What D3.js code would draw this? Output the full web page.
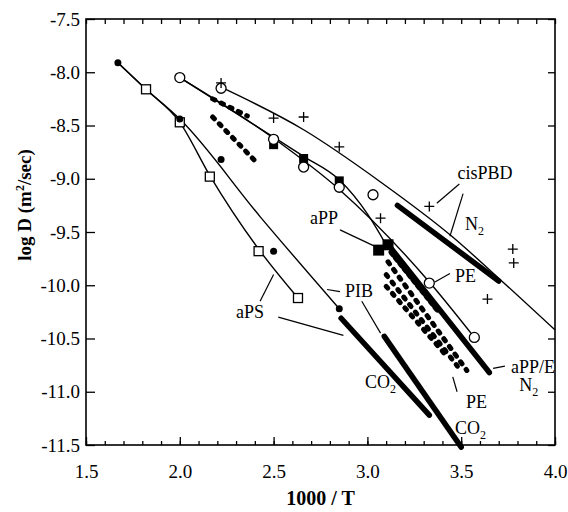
<!DOCTYPE html>
<html>
<head>
<meta charset="utf-8">
<script src="https://cdn.jsdelivr.net/npm/d3@7"></script>
<style>
  body { margin: 0; background: #fff; }
  text { font-family: "Liberation Serif", "Times New Roman", serif; fill: #000; }
</style>
</head>
<body>
<svg id="chart" width="568" height="512"></svg>
<script>
// tick values
const xMajor = [1.5, 2.0, 2.5, 3.0, 3.5, 4.0];
const xMinor = d3.range(15, 41).map(d => d / 10);
const yMajor = [-7.5, -8.0, -8.5, -9.0, -9.5, -10.0, -10.5, -11.0, -11.5];

// measured points  [1000/T, log D]
const apsSquares = [[1.82, -8.16], [2.0, -8.47], [2.16, -8.98], [2.42, -9.68], [2.63, -10.12]];
const pibDots = [[1.67, -7.91], [2.0, -8.44], [2.22, -8.82], [2.5, -9.68], [2.85, -10.22]];
const peCircles = [[2.0, -8.05], [2.22, -8.15], [2.5, -8.63], [2.66, -8.89], [2.85, -9.08], [3.03, -9.15], [3.33, -9.98], [3.57, -10.49]];
const appSquares = [[2.5, -8.68], [2.66, -8.81], [2.85, -9.02]];
const appBigSquares = [[3.06, -9.67], [3.11, -9.62]];
const pbdPlus = [[2.22, -8.10], [2.5, -8.43], [2.66, -8.42], [2.85, -8.70], [3.07, -9.37], [3.33, -9.26], [3.775, -9.66], [3.78, -9.79], [3.64, -10.13]];

// fitted curves
const apsFit = [[1.67, -7.91], [1.82, -8.16], [2.0, -8.47], [2.16, -8.97], [2.42, -9.66], [2.63, -10.12]];
const pibFit = [[1.67, -7.91], [1.82, -8.16], [2.0, -8.44], [2.43, -9.36], [2.85, -10.22]];
const peFit = [[2.0, -8.05], [2.5, -8.62], [2.85, -9.10], [3.33, -9.97], [3.57, -10.49]];
const appFit = [[2.0, -8.05], [2.5, -8.61], [2.66, -8.79], [2.85, -9.01], [3.0, -9.33], [3.10, -9.62]];
const pbdFit = [[2.22, -8.14], [2.66, -8.54], [3.07, -9.03], [3.45, -9.54], [3.71, -9.95], [4.0, -10.42]];

// thick gas ranges
const thickLines = [
  [[3.16, -9.25], [3.70, -9.96]],   // cisPBD N2
  [[2.86, -10.31], [3.33, -11.22]], // aPS CO2
  [[3.09, -10.48], [3.50, -11.52]], // PIB CO2
  [[3.12, -9.64], [3.65, -10.82]]   // aPP/E N2
];

// dotted ranges
const dotRows = [
  [[2.175, -8.25], [2.36, -8.41]],
  [[2.175, -8.42], [2.40, -8.83]],
  [[3.11, -9.78], [3.53, -10.80]],
  [[3.10, -9.90], [3.48, -10.76]],
  [[3.10, -10.01], [3.42, -10.66]]
];
const denseRow = [[3.13, -9.69], [3.38, -10.24]];

// labels: [text, subscript, x, y]
const labels = [
  ['cisPBD', '', 3.48, -9.0],
  ['N', '2', 3.52, -9.48],
  ['aPP', '', 2.694, -9.425],
  ['PE', '', 3.467, -9.97],
  ['PIB', '', 2.88, -10.11],
  ['aPS', '', 2.30, -10.31],
  ['CO', '2', 2.987, -10.965],
  ['CO', '2', 3.467, -11.40],
  ['aPP/E', '', 3.765, -10.82],
  ['N', '2', 3.81, -10.99],
  ['PE', '', 3.526, -11.15]
];
const pointers = [
  [[3.49, -9.05], [3.37, -9.23]],
  [[3.51, -9.14], [3.44, -9.54]],
  [[2.854, -9.48], [3.046, -9.64]],
  [[3.36, -9.97], [3.44, -9.89]],
  [[2.785, -10.04], [2.854, -10.06]],
  [[2.97, -10.15], [3.07, -10.45]],
  [[2.428, -10.15], [2.50, -9.90]],
  [[2.525, -10.30], [2.872, -10.47]],
  [[3.67, -10.78], [3.733, -10.76]],
  [[3.455, -10.86], [3.478, -11.0]]
];

const svg = d3.select('#chart');
const x = d3.scaleLinear().domain([1.5, 4.0]).range([86, 555]);
const y = d3.scaleLinear().domain([-11.5, -7.5]).range([445, 19]);

const line = d3.line().x(d => x(d[0])).y(d => y(d[1]));
const curve = d3.line().x(d => x(d[0])).y(d => y(d[1])).curve(d3.curveMonotoneX);

// frame
svg.append('rect')
  .attr('x', x(1.5)).attr('y', y(-7.5))
  .attr('width', x(4.0) - x(1.5)).attr('height', y(-11.5) - y(-7.5))
  .attr('fill', 'none').attr('stroke', '#000').attr('stroke-width', 1.6);

const fmt = d => d.toFixed(1);

// bottom axis
const bottomAx = svg.append('g').attr('transform', 'translate(0,' + y(-11.5) + ')');
bottomAx.call(d3.axisBottom(x).tickValues(xMinor).tickSizeInner(-4).tickSizeOuter(0).tickFormat(''));
bottomAx.append('g').call(d3.axisBottom(x).tickValues(xMajor).tickSizeInner(-8).tickSizeOuter(0).tickPadding(20).tickFormat(fmt));
// top axis
const topAx = svg.append('g').attr('transform', 'translate(0,' + y(-7.5) + ')');
topAx.call(d3.axisTop(x).tickValues(xMinor).tickSizeInner(-5).tickSizeOuter(0).tickFormat(''));
// left axis
const leftAx = svg.append('g').attr('transform', 'translate(' + x(1.5) + ',0)');
leftAx.call(d3.axisLeft(y).tickValues(yMajor).tickSizeInner(-9).tickSizeOuter(0).tickPadding(6).tickFormat(fmt));
// right axis
const rightAx = svg.append('g').attr('transform', 'translate(' + x(4.0) + ',0)');
rightAx.call(d3.axisRight(y).tickValues(yMajor).tickSizeInner(-7).tickSizeOuter(0).tickFormat(''));

svg.selectAll('.domain').remove();
svg.selectAll('.tick line').attr('stroke', '#000').attr('stroke-width', 1.3);
svg.selectAll('.tick text')
  .style('font-family', '"Liberation Serif", "Times New Roman", serif')
  .style('font-size', '19px').attr('fill', '#000');

// axis titles
svg.append('text')
  .attr('x', (x(1.5) + x(4.0)) / 2).attr('y', 505)
  .attr('text-anchor', 'middle').style('font-size', '20px').style('font-weight', 'bold')
  .text('1000 / T');

const yt = svg.append('text')
  .attr('transform', 'translate(31,' + 205 + ') rotate(-90)')
  .attr('text-anchor', 'middle').style('font-size', '19px').style('font-weight', 'bold');
yt.append('tspan').text('log D  (m');
yt.append('tspan').attr('dy', -7).style('font-size', '12px').text('2');
yt.append('tspan').attr('dy', 7).text('/sec)');

// fitted thin curves
const plot = svg.append('g');
[apsFit, pibFit, peFit, appFit, pbdFit].forEach(c => {
  plot.append('path').attr('d', curve(c))
    .attr('fill', 'none').attr('stroke', '#000').attr('stroke-width', 1.4);
});

// thick lines
plot.selectAll('.thick').data(thickLines).enter().append('path')
  .attr('class', 'thick').attr('d', line)
  .attr('fill', 'none').attr('stroke', '#000')
  .attr('stroke-width', 5.5).attr('stroke-linecap', 'round');

// dotted rows
plot.selectAll('.dots').data(dotRows).enter().append('path')
  .attr('class', 'dots').attr('d', line)
  .attr('fill', 'none').attr('stroke', '#000')
  .attr('stroke-width', 5).attr('stroke-linecap', 'round')
  .attr('stroke-dasharray', '2.5,7');
plot.append('path').attr('d', line(denseRow))
  .attr('fill', 'none').attr('stroke', '#000')
  .attr('stroke-width', 6.5).attr('stroke-linecap', 'round')
  .attr('stroke-dasharray', '3,4');

// pointer lines
plot.selectAll('.ptr').data(pointers).enter().append('path')
  .attr('class', 'ptr').attr('d', line)
  .attr('stroke', '#000').attr('stroke-width', 1.2);

// markers
plot.selectAll('.aps').data(apsSquares).enter().append('rect')
  .attr('x', d => x(d[0]) - 4.5).attr('y', d => y(d[1]) - 4.5)
  .attr('width', 9).attr('height', 9)
  .attr('fill', '#fff').attr('stroke', '#000').attr('stroke-width', 1.3);

plot.selectAll('.app').data(appSquares).enter().append('rect')
  .attr('x', d => x(d[0]) - 4.5).attr('y', d => y(d[1]) - 4.5)
  .attr('width', 9).attr('height', 9).attr('fill', '#000');
plot.selectAll('.appb').data(appBigSquares).enter().append('rect')
  .attr('x', d => x(d[0]) - 5.5).attr('y', d => y(d[1]) - 5.5)
  .attr('width', 11).attr('height', 11).attr('fill', '#000');

plot.selectAll('.pe').data(peCircles).enter().append('circle')
  .attr('cx', d => x(d[0])).attr('cy', d => y(d[1])).attr('r', 5)
  .attr('fill', '#fff').attr('stroke', '#000').attr('stroke-width', 1.3);

plot.selectAll('.pib').data(pibDots).enter().append('circle')
  .attr('cx', d => x(d[0])).attr('cy', d => y(d[1])).attr('r', 3.5)
  .attr('fill', '#000');

plot.selectAll('.pbd').data(pbdPlus).enter().append('path')
  .attr('d', d => {
    const cx = x(d[0]), cy = y(d[1]);
    return 'M' + (cx - 5) + ',' + cy + 'H' + (cx + 5) + 'M' + cx + ',' + (cy - 5) + 'V' + (cy + 5);
  })
  .attr('stroke', '#000').attr('stroke-width', 1.3);

// labels
labels.forEach(l => {
  const t = plot.append('text')
    .attr('x', x(l[2])).attr('y', y(l[3]))
    .style('font-size', '18px');
  t.append('tspan').text(l[0]);
  if (l[1]) t.append('tspan').attr('dy', 5).style('font-size', '12px').text(l[1]);
});
</script>
</body>
</html>
